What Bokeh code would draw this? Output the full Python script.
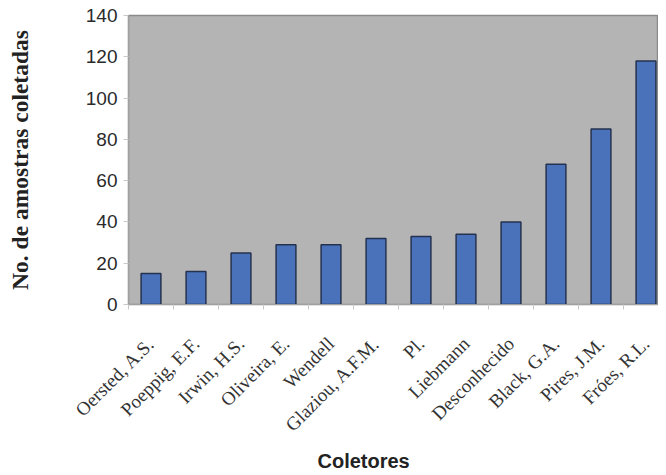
import numpy as np
from math import pi
from bokeh.plotting import figure
from bokeh.models import Range1d, FixedTicker, Title
from bokeh.embed import file_html
from bokeh.resources import INLINE

coletores = ["Oersted, A.S.", "Poeppig, E.F.", "Irwin, H.S.", "Oliveira, E.", "Wendell",
             "Glaziou, A.F.M.", "Pl.", "Liebmann", "Desconhecido", "Black, G.A.",
             "Pires, J.M.", "Fróes, R.L."]
amostras = [15, 16, 25, 29, 29, 32, 33, 34, 40, 68, 85, 118]
y_ticks = [0, 20, 40, 60, 80, 100, 120, 140]

n = len(coletores)
xc = np.arange(n) + 0.5
bounds = list(np.arange(n + 1))

p = figure(frame_width=530, frame_height=289, output_backend="svg", toolbar_location=None,
           x_range=Range1d(0, 530 / 45), y_range=Range1d(0, 140),
           min_border_left=128, min_border_top=15, min_border_right=0, min_border_bottom=0)

p.border_fill_color = "white"
p.background_fill_color = "#b5b4b4"
p.outline_line_color = "#8a8a8a"
p.outline_line_width = 1.5
p.grid.visible = False

p.vbar(x=xc, top=amostras, width=0.44, fill_color="#4a72bb", line_color="#24324f", line_width=1.5)

# x axis
xa = p.xaxis[0]
xa.ticker = FixedTicker(ticks=list(xc), minor_ticks=bounds)
xa.major_label_overrides = {float(v): c for v, c in zip(xc, coletores)}
xa.major_label_orientation = pi / 4
xa.major_tick_line_color = None
xa.minor_tick_line_color = "#c8c8c8"
xa.minor_tick_out = 5
xa.minor_tick_in = 0
xa.axis_line_color = "#a0a0a0"
xa.major_label_text_font = "Liberation Serif"
xa.major_label_text_font_size = "19px"
xa.major_label_text_color = "#333333"
xa.major_label_standoff = 30

# y axis
ya = p.yaxis[0]
ya.ticker = FixedTicker(ticks=y_ticks)
ya.minor_tick_line_color = None
ya.major_tick_line_color = "#c8c8c8"
ya.major_tick_out = 5
ya.major_tick_in = 0
ya.axis_line_color = "#a0a0a0"
ya.major_label_text_font = "Liberation Sans"
ya.major_label_text_font_size = "19px"
ya.major_label_text_color = "#2a2a2a"
ya.major_label_standoff = 6
ya.axis_label = "No. de amostras coletadas"
ya.axis_label_text_font = "Liberation Serif"
ya.axis_label_text_font_style = "bold"
ya.axis_label_text_font_size = "23.5px"
ya.axis_label_text_color = "#222222"
ya.axis_label_standoff = 50

p.add_layout(Title(text="Coletores", align="left", offset=189, standoff=4, text_font="Liberation Sans",
                   text_font_style="bold", text_font_size="20px", text_color="#222222"), "below")

open("out.html", "w").write(file_html(p, INLINE))
